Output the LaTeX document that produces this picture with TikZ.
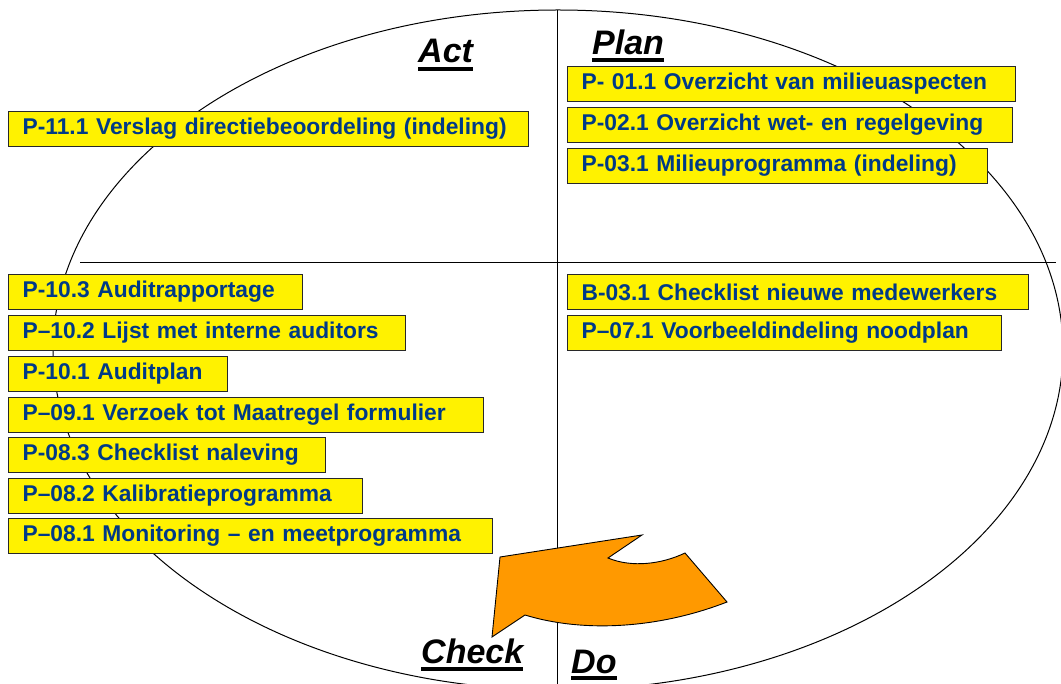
\documentclass[tikz,border=0pt]{standalone}
\usepackage{fontspec}
\setmainfont{Liberation Sans}
\definecolor{boxtext}{RGB}{0,58,135}
\definecolor{arroworange}{RGB}{255,153,0}
\definecolor{boxline}{RGB}{40,40,40}
\begin{document}
\begin{tikzpicture}[x=1pt,y=-1pt,
  box/.style={draw=boxline, line width=1.2pt, fill=yellow, text=boxtext,
    font=\fontsize{22.8}{27}\selectfont\bfseries, inner xsep=14pt, inner ysep=0pt,
    minimum height=35pt, anchor=north west, align=left},
  phase/.style={font=\fontsize{34}{40}\selectfont\bfseries\itshape, inner sep=0pt, anchor=base west},
  ul/.style={line width=3.5pt},
  frame/.style={line width=1pt}]
\useasboundingbox (0,0) rectangle (1061,684);
\begin{scope}
\clip (0,0) rectangle (1061,684);
\draw[frame] (558,350) ellipse [x radius=505, y radius=340];
\coordinate (vtop) at (557,10);
\coordinate (vbot) at (557,690);
\coordinate (hl) at (80,263);
\coordinate (hr) at (1056,263);
\draw[frame] (vtop) -- (vbot);
\draw[frame] (hl) -- (hr);

% Act
\node[box, text width=492pt] (p111) at (8,111) {P-11.1 Verslag directiebeoordeling (indeling)};
% Plan
\node[box, text width=420pt] (p011) at (567,66) {P- 01.1 Overzicht van milieuaspecten};
\node[box, text width=417pt] (p021) at (567,107) {P-02.1 Overzicht wet- en regelgeving};
\node[box, text width=392pt] (p031) at (567,148) {P-03.1 Milieuprogramma (indeling)};
% Do
\node[box, text width=433pt] (b031) at (567,274) {B-03.1 Checklist nieuwe medewerkers};
\node[box, text width=406pt] (p071) at (567,315) {P–07.1 Voorbeeldindeling noodplan};
% Check
\node[box, text width=266pt] (p103) at (8,274) {P-10.3 Auditrapportage};
\node[box, text width=369pt] (p102) at (8,315) {P–10.2 Lijst met interne auditors};
\node[box, text width=191pt] (p101) at (8,356) {P-10.1 Auditplan};
\node[box, text width=447pt] (p091) at (8,397) {P–09.1 Verzoek tot Maatregel formulier};
\node[box, text width=289pt] (p083) at (8,437) {P-08.3 Checklist naleving};
\node[box, text width=326pt] (p082) at (8,478) {P–08.2 Kalibratieprogramma};
\node[box, text width=456pt] (p081) at (8,518) {P–08.1 Monitoring – en meetprogramma};

% cycle arrow
\draw[fill=arroworange, line width=0.9pt, line join=miter]
  (492,637) -- (500,557) -- (642,535) -- (608,558)
  .. controls (632,568) and (662,564) .. (685,553)
  -- (727,602)
  .. controls (655,630) and (580,632) .. (525,615) -- cycle;

% phase labels
\node[phase] (act) at (418,63) {Act};
\node[phase] (plan) at (592,55) {Plan};
\node[phase] (check) at (421,663) {Check};
\node[phase] (do) at (571,673) {Do};
\draw[ul] ([yshift=-6pt]act.base west) -- ([yshift=-6pt]act.base east);
\draw[ul] ([yshift=-5pt]plan.base west) -- ([yshift=-5pt]plan.base east);
\draw[ul] ([yshift=-6pt]check.base west) -- ([yshift=-6pt]check.base east);
\draw[ul] ([yshift=-5pt]do.base west) -- ([yshift=-5pt]do.base east);
\end{scope}
\end{tikzpicture}
\end{document}
